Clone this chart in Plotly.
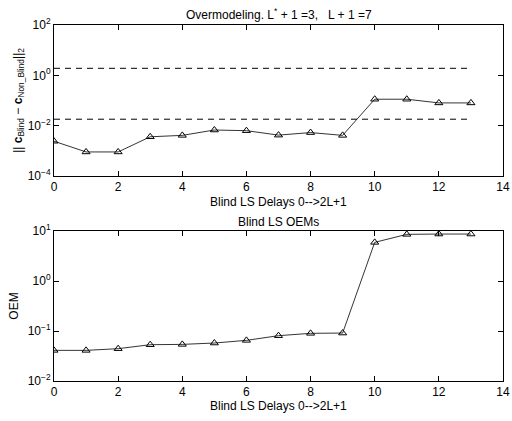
import plotly.graph_objects as go

delays = list(range(14))
coef_err = [2.4e-3, 9.0e-4, 9.0e-4, 3.6e-3, 4.1e-3, 6.7e-3, 6.3e-3, 4.2e-3, 5.3e-3, 4.1e-3,
            0.112, 0.112, 0.080, 0.080]
oem = [0.041, 0.041, 0.0443, 0.0532, 0.054, 0.0575, 0.065, 0.0806, 0.0898, 0.091,
       5.93, 8.58, 8.7, 8.7]
thresholds = [1.9, 0.018]

top_yticks = [1e-4, 1e-2, 1e0, 1e2]
top_ytext = ["10<sup>−4</sup>", "10<sup>−2</sup>", "10<sup>0</sup>", "10<sup>2</sup>"]
bot_yticks = [1e-2, 1e-1, 1e0, 1e1]
bot_ytext = ["10<sup>−2</sup>", "10<sup>−1</sup>", "10<sup>0</sup>", "10<sup>1</sup>"]
xticks = [0, 2, 4, 6, 8, 10, 12, 14]

XTITLE = "Blind LS Delays 0-->2L+1"
FONT = "Liberation Sans, Arial, Helvetica, sans-serif"

fig = go.Figure()

for th in thresholds:
    fig.add_trace(go.Scatter(
        x=[delays[0], delays[-1]], y=[th, th], mode="lines",
        line=dict(color="black", width=1, dash="6px,5px"),
        xaxis="x", yaxis="y", showlegend=False, hoverinfo="skip"))

fig.add_trace(go.Scatter(
    x=delays, y=coef_err, mode="lines+markers",
    line=dict(color="black", width=0.8),
    marker=dict(symbol="triangle-up-open", size=7, color="black", line=dict(width=1)),
    xaxis="x", yaxis="y", showlegend=False))

fig.add_trace(go.Scatter(
    x=delays, y=oem, mode="lines+markers",
    line=dict(color="black", width=0.8),
    marker=dict(symbol="triangle-up-open", size=7, color="black", line=dict(width=1)),
    xaxis="x2", yaxis="y2", showlegend=False))

axis_common = dict(
    showline=True, linecolor="black", linewidth=1, mirror="ticks",
    ticks="inside", ticklen=5, tickcolor="black", showgrid=False, zeroline=False,
    tickfont=dict(family=FONT, size=12, color="black"), automargin=False,
)

fig.update_layout(
    width=512, height=421,
    margin=dict(l=54, r=9, t=25, b=40),
    paper_bgcolor="white", plot_bgcolor="white",
    font=dict(family=FONT, size=12, color="black"),
    xaxis=dict(domain=[0, 1], range=[0, 14], tickvals=xticks, anchor="y", **axis_common),
    yaxis=dict(domain=[0.576, 1], type="log", range=[-4, 2], tickvals=top_yticks,
               ticktext=top_ytext, anchor="x",
               title=dict(text="|| <b>c</b><sub>Blind</sub> − <b>c</b><sub>Non_Blind</sub>||<sub>2</sub>",
                          standoff=2, font=dict(family=FONT, size=12)),
               **axis_common),
    xaxis2=dict(domain=[0, 1], range=[0, 14], tickvals=xticks, anchor="y2", **axis_common),
    yaxis2=dict(domain=[0, 0.4213], type="log", range=[-2, 1], tickvals=bot_yticks,
                ticktext=bot_ytext, anchor="x2",
                title=dict(text="OEM", standoff=6, font=dict(family=FONT, size=12)),
                **axis_common),
    annotations=[
        dict(text="Overmodeling. L<sup>*</sup> + 1 =3,   L + 1 =7", x=0.5, y=1,
             xref="paper", yref="paper", xanchor="center", yanchor="bottom",
             yshift=1, showarrow=False, font=dict(family=FONT, size=12)),
        dict(text="Blind LS OEMs", x=0.5, y=0.4213,
             xref="paper", yref="paper", xanchor="center", yanchor="bottom",
             yshift=0, showarrow=False, font=dict(family=FONT, size=12)),
        dict(text=XTITLE, x=0.5, y=0.504,
             xref="paper", yref="paper", xanchor="center", yanchor="middle",
             showarrow=False, font=dict(family=FONT, size=12)),
        dict(text=XTITLE, x=0.5, y=-0.070,
             xref="paper", yref="paper", xanchor="center", yanchor="middle",
             showarrow=False, font=dict(family=FONT, size=12)),
    ],
)

fig.write_html("out.html", config={"displayModeBar": False},
               post_script="document.body.style.margin='0';document.body.style.overflow='hidden';")
